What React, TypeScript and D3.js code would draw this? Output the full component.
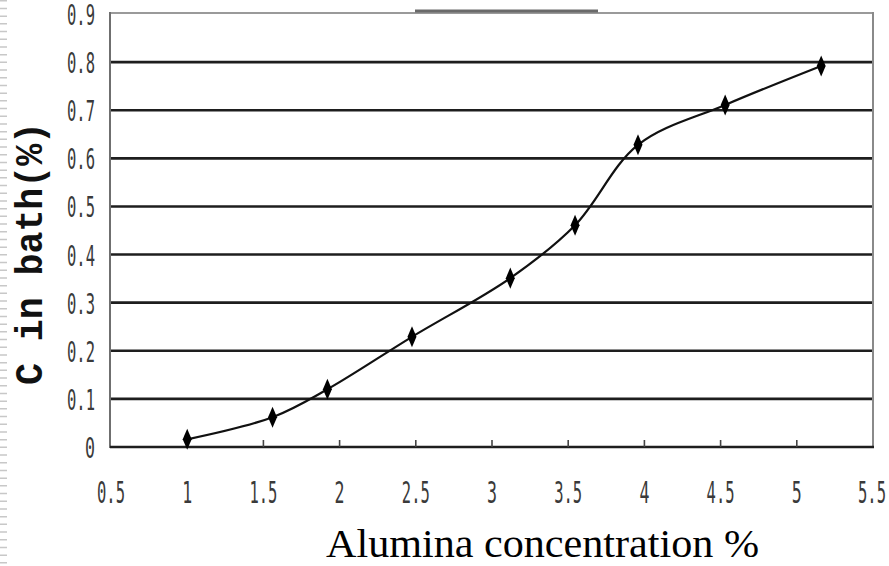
import React from "react";
import * as d3 from "d3";

const alumina = [1.0, 1.56, 1.92, 2.475, 3.12, 3.545, 3.958, 4.53, 5.16];
const carbon = [0.016, 0.062, 0.12, 0.229, 0.351, 0.461, 0.628, 0.711, 0.792];
const yTicks = [0, 0.1, 0.2, 0.3, 0.4, 0.5, 0.6, 0.7, 0.8, 0.9];
const yTickLabels = ["0", "0.1", "0.2", "0.3", "0.4", "0.5", "0.6", "0.7", "0.8", "0.9"];
const xTicks = [0.5, 1, 1.5, 2, 2.5, 3, 3.5, 4, 4.5, 5, 5.5];
const xTickLabels = ["0.5", "1", "1.5", "2", "2.5", "3", "3.5", "4", "4.5", "5", "5.5"];

const W = 889, H = 566;
const L = 111, R = 873, T = 14, B = 447;

export default function App() {
  const x = d3.scaleLinear().domain([0.5, 5.5]).range([L, R]);
  const y = d3.scaleLinear().domain([0, 0.9]).range([B, T]);
  const pts = alumina.map((a, i) => [x(a), y(carbon[i])] as [number, number]);
  const line = d3.line().curve(d3.curveCatmullRom.alpha(0.5))(pts) || "";
  const diamond = d3.symbol(d3.symbolDiamond, 70)() || "";
  const w = (s: string) => (s.length === 1 ? 10 : 28);

  return (
    <svg width={W} height={H} style={{ position: "absolute", left: 0, top: 0, background: "#fff" }}>
      <rect x={0} y={0} width={W} height={H} fill="#fff" />
      {/* scanner ruler artifact */}
      <line x1={3.5} x2={3.5} y1={0} y2={H} stroke="#c8c8c8" strokeWidth={7} strokeDasharray="1.5 6.2" />
      {/* gridlines */}
      {yTicks.slice(1, -1).map((t) => (
        <line key={t} x1={L} x2={R} y1={y(t)} y2={y(t)} stroke="#1e1e1e" strokeWidth={2.6} />
      ))}
      {/* frame */}
      <line x1={L} x2={R} y1={T - 1} y2={T - 1} stroke="#9a9a9a" strokeWidth={2} />
      <line x1={415} x2={598} y1={11} y2={11} stroke="#6a6a6a" strokeWidth={3} />
      <line x1={R} x2={R} y1={T - 2} y2={B} stroke="#8a8a8a" strokeWidth={2} />
      <line x1={L - 1} x2={L - 1} y1={T - 2} y2={B + 1} stroke="#6f6f6f" strokeWidth={2} />
      <line x1={L - 1} x2={R + 1} y1={B} y2={B} stroke="#1e1e1e" strokeWidth={2.6} />
      {/* x ticks inside */}
      {xTicks.slice(1, -1).map((t) => (
        <line key={t} x1={x(t)} x2={x(t)} y1={B} y2={B - 7} stroke="#444" strokeWidth={1.6} />
      ))}
      {/* y tick labels */}
      {yTicks.map((t, i) => (
        <text key={t} x={95 - w(yTickLabels[i])} y={y(t) + 3} dominantBaseline="middle"
          fontFamily="DejaVu Sans Mono" fontSize={29} fill="#3a3a3a"
          textLength={w(yTickLabels[i])} lengthAdjust="spacingAndGlyphs">{yTickLabels[i]}</text>
      ))}
      {/* x tick labels */}
      {xTicks.map((t, i) => (
        <text key={t} x={Math.min(x(t) - w(xTickLabels[i]) / 2, W - 3 - w(xTickLabels[i]))} y={494} dominantBaseline="middle"
          fontFamily="DejaVu Sans Mono" fontSize={31} fill="#3a3a3a"
          textLength={w(xTickLabels[i])} lengthAdjust="spacingAndGlyphs">{xTickLabels[i]}</text>
      ))}
      {/* curve */}
      <path d={line} fill="none" stroke="#111" strokeWidth={2.2} />
      {pts.map((p, i) => (
        <path key={i} d={diamond} transform={`translate(${p[0]},${p[1]}) scale(1,1.35)`} fill="#000" />
      ))}
      {/* axis titles */}
      <text transform="translate(42,385) rotate(-90)" x={0} y={0}
        fontFamily="Liberation Mono" fontWeight="bold" fontSize={38} fill="#111"
        textLength={263} lengthAdjust="spacingAndGlyphs">C in bath(%)</text>
      <text x={326} y={557} fontFamily="Liberation Serif" fontSize={40} fill="#000"
        textLength={433} lengthAdjust="spacingAndGlyphs">Alumina concentration %</text>
    </svg>
  );
}
